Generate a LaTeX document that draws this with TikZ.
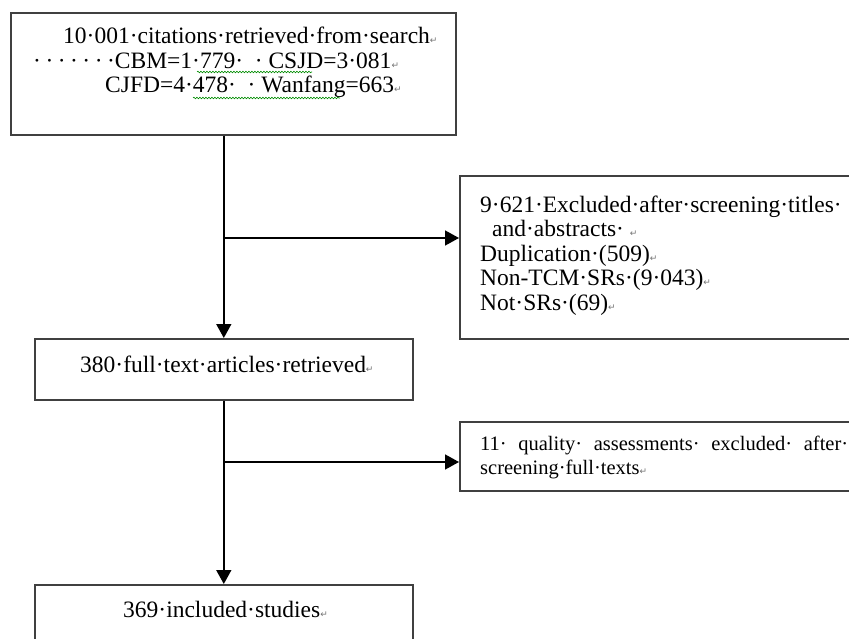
\documentclass[tikz,border=0pt]{standalone}
\usepackage{fontspec}
\setmainfont{Liberation Serif}
\newfontfamily\retfont{DejaVu Sans}
\usetikzlibrary{arrows.meta,decorations.pathmorphing}
\newcommand{\retmark}{{\retfont\fontsize{9}{9}\selectfont\color{black!55}↵}}
\newcommand{\spdot}{·\hspace{4.5pt}}
\tikzset{
    %Define standard arrow tip
    >={Triangle[length=14pt,width=15pt]},
    %Define style for boxes
    flowbox/.style={
           rectangle,
           draw=black!75, line width=1.6pt,
           anchor=north west,
           inner sep=0pt},
    %Define style for the text in the boxes (placed at the baseline of the last line)
    boxtext/.style={
           inner sep=0pt,
           anchor=base west,
           align=left,
           font=\fontsize{23.5}{24.5}\selectfont},
    % Define arrow style
    pil/.style={
           ->,
           line width=1.6pt},
    squiggle/.style={
           draw=green!55!black, line width=0.6pt,
           decorate, decoration={snake,amplitude=0.8pt,segment length=3pt}}
}
\begin{document}
\begin{tikzpicture}[x=1pt,y=-1pt]
\path[use as bounding box,clip] (0,0) rectangle (849,639);
 %boxes
\node[flowbox, minimum width=445pt, minimum height=122pt] (search) at (10,12) {};
\node[flowbox, minimum width=420pt, minimum height=163pt] (screen) at (459,175) {};
\node[flowbox, minimum width=378pt, minimum height=61pt] (full) at (34,338) {};
\node[flowbox, minimum width=420pt, minimum height=69pt] (quality) at (459,421) {};
\node[flowbox, minimum width=378pt, minimum height=80pt] (incl) at (34,584) {};
 %texts
\node[boxtext] (searchtxt) at (33,93) {\hspace*{30pt}10·001·citations·retrieved·from·search\retmark\\
  \spdot\spdot\spdot\spdot\spdot\spdot·CBM=1·779·\ \ ·\ CSJD=3·081\retmark\\
  \hspace*{72pt}CJFD=4·478·\ \ ·\ Wanfang=663\retmark};
\node[boxtext] (screentxt) at (480,310) {9·621·Excluded·after·screening·titles·\\
  \hspace*{12pt}and·abstracts·\ \retmark\\
  Duplication·(509)\retmark\\
  Non-TCM·SRs·(9·043)\retmark\\
  Not·SRs·(69)\retmark};
\node[boxtext] (fulltxt) at (80,372) {380·full·text·articles·retrieved\retmark};
% text width puts the base on the first line
\node[boxtext, text width=368pt, font=\fontsize{20.5}{24}\selectfont] (qualitytxt) at (480,450) {\hbox to \linewidth{11·\hfill quality·\hfill assessments·\hfill excluded·\hfill after·}\\
  screening·full·texts\retmark};
\node[boxtext] (incltxt) at (123,617) {369·included·studies\retmark};
\draw[squiggle] (197,72) -- (312,72);
\draw[squiggle] (193,98) -- (340,98);
 %arrows
\coordinate (fork1) at (full.north |- 0,238);
\coordinate (fork2) at (full.south |- 0,462);
\draw[pil] (full.north |- search.south) -- (full.north);
\draw[pil] (fork1) -- (fork1 -| screen.west);
\draw[pil] (full.south) -- (incl.north);
\draw[pil] (fork2) -- (fork2 -| quality.west);
\end{tikzpicture}
\end{document}
